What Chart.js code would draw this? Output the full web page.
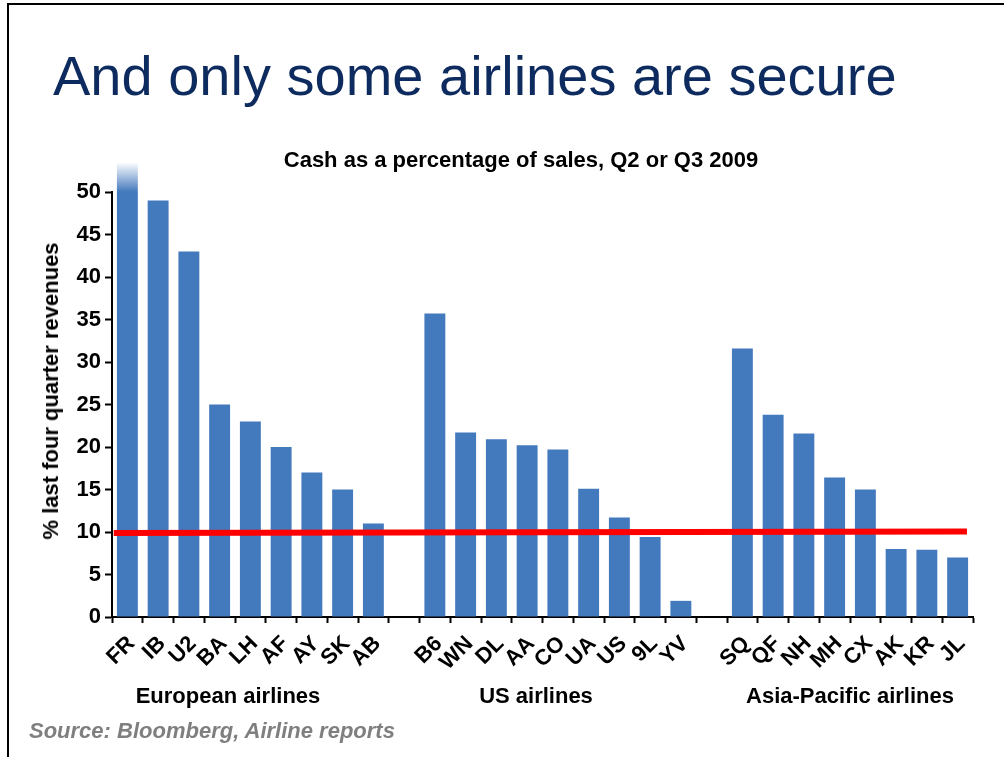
<!DOCTYPE html>
<html>
<head>
<meta charset="utf-8">
<script src="https://cdn.jsdelivr.net/npm/chart.js@4.4.1/dist/chart.umd.min.js"></script>
<style>
  html, body { margin: 0; padding: 0; background: #fff; }
  body { width: 1004px; height: 757px; position: relative; overflow: hidden; font-family: "Liberation Sans", Arial, sans-serif; }
  #frame { position: absolute; left: 7px; top: 3px; right: -4px; bottom: -4px; border-top: 2px solid #000; border-left: 2px solid #000; }
  #wrap { position: absolute; left: 0; top: 0; width: 1004px; height: 757px; }
  .txt { position: absolute; white-space: nowrap; line-height: 1; }
  #slide-title { left: 53px; top: 48px; font-size: 56px; color: #0d2b5e; }
  #chart-title { left: 521px; top: 149px; transform: translateX(-50%); font-size: 22px; font-weight: bold; color: #000; }
  #y-title { left: 51px; top: 391px; transform: translate(-50%, -50%) rotate(-90deg); font-size: 22px; font-weight: bold; color: #000; }
  .group { top: 685px; transform: translateX(-50%); font-size: 22px; font-weight: bold; color: #000; }
  #source { left: 29px; top: 720px; font-size: 22px; font-weight: bold; font-style: italic; color: #7f7f7f; }
</style>
</head>
<body>
<div id="frame"></div>
<div id="wrap"><canvas id="cash-chart"></canvas></div>
<div class="txt" id="slide-title">And only some airlines are secure</div>
<div class="txt" id="chart-title">Cash as a percentage of sales, Q2 or Q3 2009</div>
<div class="txt" id="y-title">% last four quarter revenues</div>
<div class="txt group" style="left:228px">European airlines</div>
<div class="txt group" style="left:536px">US airlines</div>
<div class="txt group" style="left:850px">Asia-Pacific airlines</div>
<div class="txt" id="source">Source: Bloomberg, Airline reports</div>

<script>
// 항공사 코드 (빈 칸은 그룹 사이 간격)
const airlineCodes = ['FR', 'IB', 'U2', 'BA', 'LH', 'AF', 'AY', 'SK', 'AB', '',
  'B6', 'WN', 'DL', 'AA', 'CO', 'UA', 'US', '9L', 'YV', '',
  'SQ', 'QF', 'NH', 'MH', 'CX', 'AK', 'KR', 'JL'];

// 매출 대비 현금 비율 (%) - FR은 축 위로 잘려 있음
const cashPct = [53.5, 49, 43, 25, 23, 20, 17, 15, 11, null,
  35.7, 21.7, 20.9, 20.2, 19.7, 15.1, 11.7, 9.4, 1.9, null,
  31.6, 23.8, 21.6, 16.4, 15.0, 8.0, 7.9, 7.0];

// 10% 기준선 (x는 축 길이 비율)
const thresholdX = [0.002, 0.993];
const thresholdY = [9.88, 10.07];

// y축 눈금
const yTicks = [0, 5, 10, 15, 20, 25, 30, 35, 40, 45, 50];

const barColor = '#4379bd';
const tickFont = { family: '"Liberation Sans", Arial, sans-serif', size: 22, weight: 'bold' };

// FR 막대는 위쪽이 흐려짐
function barFill(context) {
  const chart = context.chart;
  if (context.dataIndex !== 0 || !chart.chartArea) return barColor;
  const y = chart.scales.y;
  const g = chart.ctx.createLinearGradient(0, y.getPixelForValue(cashPct[0]), 0, y.getPixelForValue(yTicks[yTicks.length - 1]));
  g.addColorStop(0, 'rgba(67, 121, 189, 0)');
  g.addColorStop(1, barColor);
  return g;
}

const ctx = document.getElementById('cash-chart').getContext('2d');
new Chart(ctx, {
  type: 'bar',
  data: {
    labels: airlineCodes,
    datasets: [{
      type: 'line',
      data: thresholdX.map((x, i) => ({ x: x, y: thresholdY[i] })),
      xAxisID: 'x2',
      borderColor: '#ff0000',
      borderWidth: 6,
      pointRadius: 0,
      tension: 0,
      order: 0
    }, {
      data: cashPct,
      backgroundColor: barFill,
      barPercentage: 0.68,
      categoryPercentage: 1,
      grouped: false,
      clip: false,
      order: 1
    }]
  },
  options: {
    responsive: true,
    maintainAspectRatio: false,
    animation: false,
    layout: { padding: { left: 0, top: 192, right: 31, bottom: 0 } },
    plugins: {
      legend: { display: false },
      tooltip: { enabled: false },
      title: { display: false }
    },
    scales: {
      x: {
        afterFit: scale => { scale.height = 140; },
        grid: { drawOnChartArea: false, drawTicks: true, tickLength: 6, tickColor: '#000', tickWidth: 2, offset: true },
        border: { display: true, color: '#000', width: 2 },
        ticks: { autoSkip: false, maxRotation: 45, minRotation: 45, color: '#000', font: tickFont, padding: 8, labelOffset: 4 }
      },
      x2: {
        type: 'linear',
        display: false,
        offset: false,
        min: 0,
        max: 1
      },
      y: {
        min: 0,
        max: 50,
        afterFit: scale => { scale.width = 112; },
        afterBuildTicks: scale => { scale.ticks = yTicks.map(v => ({ value: v })); },
        grid: { drawOnChartArea: false, drawTicks: true, tickLength: 7, tickColor: '#000', tickWidth: 2 },
        border: { display: true, color: '#000', width: 2 },
        ticks: { color: '#000', font: tickFont, padding: 4 }
      }
    }
  }
});
</script>
</body>
</html>
